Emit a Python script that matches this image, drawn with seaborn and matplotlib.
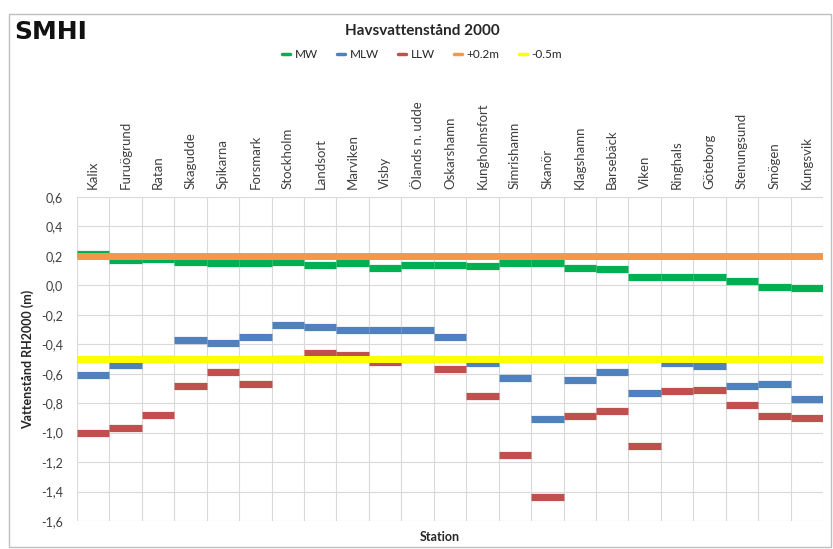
import matplotlib
matplotlib.use('Agg')
import matplotlib.pyplot as plt
import numpy as np
import pandas as pd
import seaborn as sns
from matplotlib.lines import Line2D
from matplotlib.patches import Rectangle
from matplotlib.ticker import FuncFormatter

# Värden avlästa från originalbilden
stations = ['Kalix', 'Furuögrund', 'Ratan', 'Skagudde', 'Spikarna', 'Forsmark',
            'Stockholm', 'Landsort', 'Marviken', 'Visby', 'Ölands n. udde',
            'Oskarshamn', 'Kungholmsfort', 'Simrishamn', 'Skanör', 'Klagshamn',
            'Barsebäck', 'Viken', 'Ringhals', 'Göteborg', 'Stenungsund',
            'Smögen', 'Kungsvik']
mw = [0.21, 0.17, 0.18, 0.16, 0.15, 0.15, 0.16, 0.14, 0.15, 0.12, 0.14, 0.14,
      0.13, 0.15, 0.15, 0.12, 0.11, 0.06, 0.06, 0.06, 0.03, -0.01, -0.015]
mlw = [-0.61, -0.54, -0.50, -0.37, -0.39, -0.35, -0.27, -0.28, -0.30, -0.30,
       -0.30, -0.35, -0.53, -0.63, -0.91, -0.64, -0.59, -0.73, -0.53, -0.55,
       -0.68, -0.67, -0.77]
llw = [-1.00, -0.97, -0.88, -0.68, -0.59, -0.67, -0.50, -0.46, -0.47, -0.52,
       -0.50, -0.57, -0.75, -1.15, -1.44, -0.89, -0.85, -1.09, -0.72, -0.71,
       -0.81, -0.89, -0.90]
ref_levels = {'+0.2m': 0.2, '-0.5m': -0.5}
y_ticks = [0.6, 0.4, 0.2, 0.0, -0.2, -0.4, -0.6, -0.8, -1.0, -1.2, -1.4, -1.6]

COLORS = {'MW': '#00b050', 'MLW': '#4f81bd', 'LLW': '#c0504d',
          '+0.2m': '#f79646', '-0.5m': '#ffff00'}

n = len(stations)

# Varje station blir ett horisontellt segment över sin kolumn
rows = []
for name, vals in [('MW', mw), ('MLW', mlw), ('LLW', llw)]:
    for i, v in enumerate(vals):
        rows.append({'serie': name, 'seg': f'{name}{i}', 'x': i - 0.5, 'y': v})
        rows.append({'serie': name, 'seg': f'{name}{i}', 'x': i + 0.5, 'y': v})
df = pd.DataFrame(rows)

ref_rows = []
for name, lvl in ref_levels.items():
    ref_rows.append({'serie': name, 'x': -0.5, 'y': lvl})
    ref_rows.append({'serie': name, 'x': n - 0.5, 'y': lvl})
df_ref = pd.DataFrame(ref_rows)

sns.set_theme(style='white')
plt.rcParams['font.family'] = ['Lato', 'DejaVu Sans']

fig = plt.figure(figsize=(8.33, 5.49), dpi=100)
ax = fig.add_axes([77 / 833, 1 - 521 / 549, 746 / 833, 324 / 549])

sns.lineplot(data=df, x='x', y='y', hue='serie', units='seg', estimator=None,
             palette=COLORS, linewidth=5.2, legend=False, ax=ax,
             solid_capstyle='butt', zorder=3)
sns.lineplot(data=df_ref, x='x', y='y', hue='serie', estimator=None,
             palette=COLORS, linewidth=5, legend=False, ax=ax,
             solid_capstyle='butt', zorder=4)

ax.set_xlim(-0.5, n - 0.5)
ax.set_ylim(-1.6, 0.6)
ax.set_yticks(y_ticks)
ax.yaxis.set_major_formatter(FuncFormatter(lambda v, p: f'{v:.1f}'.replace('.', ',').replace('-0,0', '0,0')))
ax.set_xticks(range(n))
ax.set_xticklabels(stations, rotation=90, fontsize=9.5, color='#404040')
ax.xaxis.tick_top()
ax.set_xticks(np.arange(-0.5, n), minor=True)
ax.tick_params(axis='x', which='both', length=0, pad=6)
ax.tick_params(axis='y', length=0, pad=10, labelsize=9, labelcolor='#404040')
ax.grid(axis='y', which='major', color='#d9d9d9', linewidth=0.8)
ax.grid(axis='x', which='minor', color='#d9d9d9', linewidth=0.8)
ax.set_axisbelow(True)
for sp in ax.spines.values():
    sp.set_visible(False)

ax.set_xlabel('')
ax.set_ylabel('Vattenstånd RH2000 (m)', fontsize=9, fontweight='bold', labelpad=5)
fig.text(440 / 833, 1 - 537 / 549, 'Station', ha='center', va='center',
         fontsize=9, fontweight='bold')

fig.text(422 / 833, 1 - 31 / 549, 'Havsvattenstånd 2000', ha='center', va='center',
         fontsize=11, fontweight='bold', color='#262626')
fig.text(14 / 833, 1 - 32 / 549, 'SMHI', ha='left', va='center', fontsize=18,
         fontweight='bold', family=['Liberation Sans Narrow', 'DejaVu Sans'],
         color='#111111')

handles = [Line2D([], [], color=COLORS[k], linewidth=2.5) for k in COLORS]
fig.legend(handles, list(COLORS), loc='center', bbox_to_anchor=(422 / 833, 1 - 55 / 549),
           ncol=5, frameon=False, fontsize=8.5, handlelength=0.7, handletextpad=0.4,
           columnspacing=1.6)

fig.patches.append(Rectangle((9 / 833, 2 / 549), 822 / 833, 533 / 549,
                             transform=fig.transFigure, fill=False,
                             edgecolor='#bfbfbf', linewidth=1))

fig.savefig('out.png', dpi=100)
